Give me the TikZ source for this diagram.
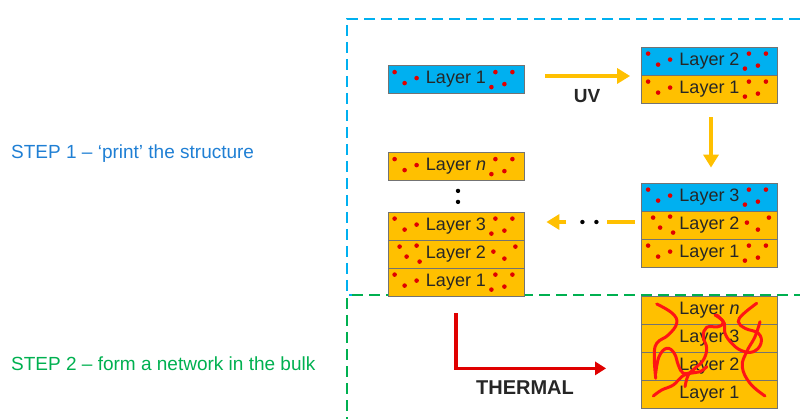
\documentclass[tikz,border=0pt]{standalone}
\usepackage{fontspec}
\setmainfont{Liberation Sans}
\usetikzlibrary{arrows.meta,calc}
\definecolor{lblue}{HTML}{00B0F0}
\definecolor{lorange}{HTML}{FFC000}
\definecolor{sblue}{HTML}{1F7FD4}
\definecolor{sgreen}{HTML}{00B050}
\definecolor{dred}{HTML}{E00000}
\definecolor{fred}{HTML}{FF1414}
\newcommand\rdA[1]{%
  \foreach \a/\b in {7/7,17/18,29/13} \fill[dred] ($(#1.north west)+(\a,\b)$) circle (2.3pt);
  \foreach \a/\b in {-29/7,-12/7,-33/22,-20/19} \fill[dred] ($(#1.north east)+(\a,\b)$) circle (2.3pt);}
\newcommand\rdB[1]{%
  \foreach \a/\b in {12/7,19/17,29/6,32/22} \fill[dred] ($(#1.north west)+(\a,\b)$) circle (2.3pt);
  \foreach \a/\b in {-31/12,-20/19,-9/7} \fill[dred] ($(#1.north east)+(\a,\b)$) circle (2.3pt);}
\begin{document}
\begin{tikzpicture}[x=1pt,y=-1pt,
  layer/.style={draw=black!55, line width=0.8pt, minimum width=136pt, minimum height=28pt,
    inner sep=0pt, font=\fontsize{18}{18}\selectfont, text=black!85},
  lb/.style={layer, fill=lblue},
  lo/.style={layer, fill=lorange},
  steptext/.style={anchor=west, inner sep=0pt, font=\fontsize{19}{19}\selectfont},
  flow/.style={draw=lorange, line width=4pt, -{Triangle[width=15pt,length=13pt]}},
  framebox/.style={line width=2pt, dash pattern=on 11pt off 6pt},
  bigword/.style={inner sep=0pt, font=\bfseries\fontsize{19}{19}\selectfont, text=black!85},
  net/.style={draw=fred, line width=3pt, line cap=round}]
\useasboundingbox (0,0) rectangle (800,419);

% frames
\draw[lblue, framebox] (800,19) -- (347,19) -- (347,295) -- (352,295);
\draw[sgreen, framebox] (352,295) -- (800,295);
\draw[sgreen, framebox] (347,298) -- (347,419);

% step texts
\node[steptext, text=sblue] (st1) at (11,154) {STEP 1 – ‘print’ the structure};
\node[steptext, text=sgreen] (st2) at (11,364) {STEP 2 – form a network in the bulk};

% layer 1 alone
\node[lb] (a1) at (456,79.5) {Layer 1};
\rdA{a1}

% two-layer stack
\node[lb] (b2) at (709.5,61) {Layer 2};
\node[lo] (b1) at (709.5,89) {Layer 1};
\rdA{b2}\rdA{b1}

% three-layer stack
\node[lb] (c3) at (709.5,197) {Layer 3};
\node[lo] (c2) at (709.5,225) {Layer 2};
\node[lo] (c1) at (709.5,253) {Layer 1};
\rdA{c3}\rdB{c2}\rdA{c1}

% n-layer stack
\node[lo] (dn) at (456,166.5) {Layer \textit{n}};
\node[lo] (d3) at (456,226) {Layer 3};
\node[lo] (d2) at (456,254) {Layer 2};
\node[lo] (d1) at (456,282) {Layer 1};
\rdA{dn}\rdA{d3}\rdB{d2}\rdA{d1}
\coordinate (vd1) at ($(dn.south)+(2,10)$);
\coordinate (vd2) at ($(dn.south)+(2,21)$);
\fill[black] (vd1) circle (2.2pt) (vd2) circle (2.2pt);

% final network stack
\node[lo] (en) at (709.5,310) {Layer \textit{n}};
\node[lo] (e3) at (709.5,338) {Layer 3};
\node[lo] (e2) at (709.5,366) {Layer 2};
\node[lo] (e1) at (709.5,394) {Layer 1};
\draw[net] plot[smooth, tension=0.7] coordinates {(656.7,304) (672.3,313.3) (676.7,323.3) (668.3,335) (656.7,343.3) (654.3,356.7) (655.7,378.3)};
\draw[net] plot[smooth, tension=0.7] coordinates {(653.3,396) (661.7,390) (673.3,385) (681.7,376.7) (690,373.3) (700,371.7) (706.7,366.7)};
\draw[net] plot[smooth, tension=0.7] coordinates {(655.7,373.3) (659,356.7) (666.7,348.3) (674.3,353.3) (678.3,365) (683.3,373.3) (693.3,371.7)};
\draw[net] plot[smooth, tension=0.7] coordinates {(715,315) (723.3,321.7) (718.3,326.7) (706.7,327.3) (703.3,336.7) (706.7,348.3) (703.3,360) (695,368.3) (688.3,375) (685,386.7)};
\draw[net] plot[smooth, tension=0.7] coordinates {(756.7,303.3) (743.3,314) (738.3,321.7) (745,328.3) (758.3,333.3) (761,343.3) (753.3,351.7) (741.7,350.7) (731.7,343.3) (725,333.3) (724.3,323.3) (716.7,315)};
\draw[net] plot[smooth, tension=0.7] coordinates {(760,321.7) (755,336.7) (746.7,351.7) (742.3,366.7) (750,383.3) (765,396)};

% UV arrow
\coordinate (uv0) at ($(a1.east)+(21,-3.5)$);
\coordinate (uv1) at ($(b1.north west)+(-11,0)$);
\draw[flow] (uv0) -- (uv0 -| uv1);
\node[bigword] (uv) at (587,96) {UV};

% down arrow
\coordinate (dw0) at ($(b1.south)+(1.5,14)$);
\coordinate (dw1) at ($(c3.north)+(1.5,-15)$);
\draw[flow] (dw0) -- (dw1);

% left arrow with dots
\coordinate (lf0) at ($(c2.west)+(-6,-3)$);
\coordinate (lf1) at ($(c2.west)+(-34,-3)$);
\coordinate (lf2) at ($(d3.east)+(42,-4)$);
\coordinate (lf3) at ($(d3.east)+(22,-4)$);
\draw[draw=lorange, line width=4pt] (lf0) -- (lf1);
\coordinate (ld1) at ($(d3.east)+(58,-4)$);
\coordinate (ld2) at ($(d3.east)+(72,-4)$);
\fill[black] (ld1) circle (2.2pt) (ld2) circle (2.2pt);
\draw[flow] (lf2) -- (lf3);

% thermal arrow
\coordinate (th0) at ($(d1.south)+(0,17)$);
\coordinate (th1) at ($(d1.south)+(0,72)$);
\coordinate (th2) at ($(e2.west)+(-35,2)$);
\draw[draw=dred, line width=3.2pt, line join=miter, -{Triangle[width=13pt,length=11pt]}] (th0) -- (th1) -- (th1 -| th2);
\node[bigword, font=\bfseries\fontsize{20}{20}\selectfont] (thermal) at (525,388) {THERMAL};
\end{tikzpicture}
\end{document}
